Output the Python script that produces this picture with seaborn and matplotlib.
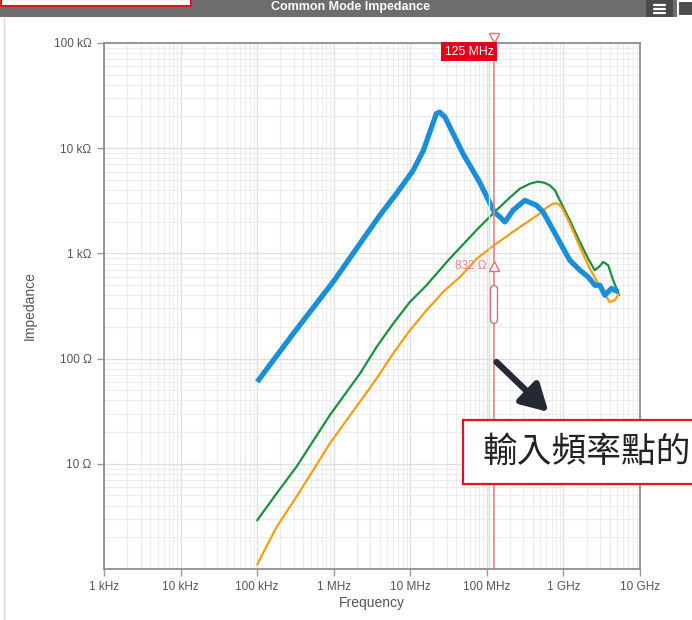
import numpy as np
import pandas as pd
import seaborn as sns
import matplotlib.pyplot as plt
from matplotlib.patches import Rectangle
from matplotlib.transforms import blended_transform_factory

# values (Hz, Ohm)
blue_f = [1e5, 3e5, 1e6, 2e6, 4e6, 6.6e6, 1.09e7, 1.48e7, 1.9e7, 2.19e7, 2.41e7, 2.83e7,
          4.9e7, 8.1e7, 1.25e8, 1.48e8, 1.72e8, 2.2e8, 3.13e8, 4.45e8, 5.43e8, 7.35e8,
          9.44e8, 1.21e9, 1.64e9, 2.1e9, 2.57e9, 2.99e9, 3.47e9, 4.24e9, 5.18e9]
blue_z = [60, 175, 545, 1120, 2300, 3700, 6150, 9500, 15900, 21300, 22000, 19800,
          8800, 4700, 2470, 2220, 1990, 2570, 3190, 2860, 2470, 1660,
          1190, 860, 691, 597, 498, 498, 400, 464, 430]

green_f = [1e5, 1.8e5, 3.27e5, 8.9e5, 2.2e6, 3.63e6, 5.98e6, 9.9e6, 1.63e7, 3.13e7,
           7.3e7, 1.33e8, 2.0e8, 2.7e8, 3.65e8, 4.6e8, 5.6e8, 6.65e8, 7.73e8, 8.98e8,
           1.21e9, 1.64e9, 2.1e9, 2.57e9, 3.0e9, 3.3e9, 3.84e9, 4.46e9, 5.35e9]
green_z = [2.9, 5.24, 9.4, 29, 72, 129, 215, 346, 498, 860,
           1660, 2570, 3400, 4120, 4600, 4800, 4700, 4430, 3980, 3190,
           2060, 1280, 893, 691, 760, 829, 771, 555, 400]

orange_f = [1e5, 1.8e5, 3.27e5, 8.9e5, 2.43e6, 3.63e6, 5.98e6, 9.9e6, 1.63e7, 2.69e7,
            4.45e7, 7.5e7, 1.33e8, 2.7e8, 4.92e8, 6.01e8, 7.35e8, 8.51e8, 9.44e8, 1.21e9,
            1.64e9, 2.21e9, 2.99e9, 4.03e9, 4.69e9, 5.35e9]
orange_z = [1.1, 2.52, 4.86, 15.6, 43, 64.7, 112, 186, 288, 430,
            597, 900, 1240, 1780, 2390, 2720, 2970, 2970, 2760, 1920,
            1150, 718, 480, 345, 359, 415]

x_ticks = [1e3, 1e4, 1e5, 1e6, 1e7, 1e8, 1e9, 1e10]
x_labels = ['1 kHz', '10 kHz', '100 kHz', '1 MHz', '10 MHz', '100 MHz', '1 GHz', '10 GHz']
y_ticks = [10, 100, 1e3, 1e4, 1e5]
y_labels = ['10 Ω', '100 Ω', '1 kΩ', '10 kΩ', '100 kΩ']

cursor_f = 125e6
cursor_label = '125 MHz'
marker_z = 760
marker_label = '832 Ω'
note_text = '輸入頻率點的'

sns.set_style('white')
plt.rcParams['font.family'] = ['Liberation Sans', 'DejaVu Sans']

fig = plt.figure(figsize=(6.92, 6.2), dpi=100)
ax = fig.add_axes([0.1503, 0.0823, 0.7746, 0.8484])

sns.lineplot(x=green_f, y=green_z, ax=ax, color='#1b9140', linewidth=1.6, sort=False,
             solid_joinstyle='round')
sns.lineplot(x=orange_f, y=orange_z, ax=ax, color='#f59e14', linewidth=1.6, sort=False,
             solid_joinstyle='round')
sns.lineplot(x=blue_f, y=blue_z, ax=ax, color='#1a8fd9', linewidth=3.8, sort=False,
             solid_capstyle='butt', solid_joinstyle='round')

ax.set_xscale('log')
ax.set_yscale('log')
ax.set_xlim(1e3, 1e10)
ax.set_ylim(1, 1e5)
ax.set_xticks(x_ticks)
ax.set_xticklabels(x_labels)
ax.set_yticks(y_ticks)
ax.set_yticklabels(y_labels)
ax.grid(which='major', color='#dedede', linewidth=0.9)
ax.grid(which='minor', color='#ececec', linewidth=0.8)
ax.tick_params(which='major', direction='out', length=5, width=1, color='#9a9a9a',
               labelsize=8.5, labelcolor='#555555', pad=4, left=True, bottom=True)
ax.tick_params(which='minor', length=0)
for s in ax.spines.values():
    s.set_color('#8f8f8f')
    s.set_linewidth(1.3)

ax.set_xlabel('Frequency', fontsize=10, color='#555555')
ax.set_ylabel('Impedance', fontsize=10, color='#555555')
ax.xaxis.set_label_coords(0.5, -0.052)
ax.yaxis.set_label_coords(-0.125, 0.5)

# cursor at 125 MHz
trans = blended_transform_factory(ax.transData, ax.transAxes)
ax.axvline(108e6, color='#cfe7d3', linewidth=1)
ax.axvline(cursor_f, color='#d9868c', linewidth=1.2)
ax.plot([cursor_f], [1.0088], marker='v', markersize=7, markerfacecolor='white',
        markeredgecolor='#e0707a', markeredgewidth=1, transform=trans, clip_on=False)
ax.text(cursor_f * 0.985, 0.995, cursor_label, transform=trans, ha='right', va='top',
        fontsize=8.8, color='white',
        bbox=dict(boxstyle='square,pad=0.3', fc='#e3001b', ec='none'))
ax.plot([cursor_f], [marker_z], marker='^', markersize=7, markerfacecolor='white',
        markeredgecolor='#e0707a', markeredgewidth=1)
ax.text(cursor_f * 0.8, marker_z, marker_label, ha='right', va='center',
        fontsize=8.5, color='#e8858b')
ax.plot([cursor_f, cursor_f], [460, 235], color='#d6707a', linewidth=6,
        solid_capstyle='round')
ax.plot([cursor_f, cursor_f], [460, 235], color='white', linewidth=4,
        solid_capstyle='round')

# header bar
fig.patches.append(Rectangle((0, 1 - 17 / 620), 1, 17 / 620, transform=fig.transFigure,
                             facecolor='#6d6d6d', edgecolor='none', zorder=0))
fig.text(0.506, 1 - 7 / 620, 'Common Mode Impedance', ha='center', va='center',
         fontsize=9, fontweight='bold', color='white')
fig.patches.append(Rectangle((646 / 692, 1 - 17 / 620), 27 / 692, 17 / 620,
                             transform=fig.transFigure, facecolor='#4a4a4a',
                             edgecolor='none'))
for yy in (4.5, 8.5, 12.5):
    fig.add_artist(plt.Line2D([654 / 692, 665 / 692], [1 - yy / 620, 1 - yy / 620],
                              transform=fig.transFigure, color='white', linewidth=1.6))
fig.patches.append(Rectangle((678 / 692, 1 - 16 / 620), 16 / 692, 15 / 620,
                             transform=fig.transFigure, facecolor='#4d4d4d',
                             edgecolor='white', linewidth=1.5))
fig.patches.append(Rectangle((0.001, 1 - 6 / 620), 190 / 692, 7 / 620,
                             transform=fig.transFigure, facecolor='white',
                             edgecolor='#e5141c', linewidth=1.5))
fig.add_artist(plt.Line2D([3.5 / 692, 3.5 / 692], [0, 1 - 17 / 620],
                          transform=fig.transFigure, color='#dadada', linewidth=1))

# callout
ax.annotate('', xy=(548.5 / 692, 1 - 412 / 620), xytext=(496.5 / 692, 1 - 362 / 620),
            xycoords='figure fraction', textcoords='figure fraction',
            arrowprops=dict(arrowstyle='-|>,head_length=0.8,head_width=0.45',
                            mutation_scale=20, lw=4.5, color='#232a33',
                            shrinkA=0, shrinkB=0))
fig.patches.append(Rectangle((463 / 692, 1 - 484 / 620), 0.4, 64.5 / 620,
                             transform=fig.transFigure, facecolor='white',
                             edgecolor='#e5141c', linewidth=1.6))
fig.text(483 / 692, 1 - 452 / 620, note_text, ha='left', va='center', fontsize=25,
         color='#222222', family=['Noto Sans CJK TC', 'DejaVu Sans'])

fig.savefig('out.png', dpi=100)
